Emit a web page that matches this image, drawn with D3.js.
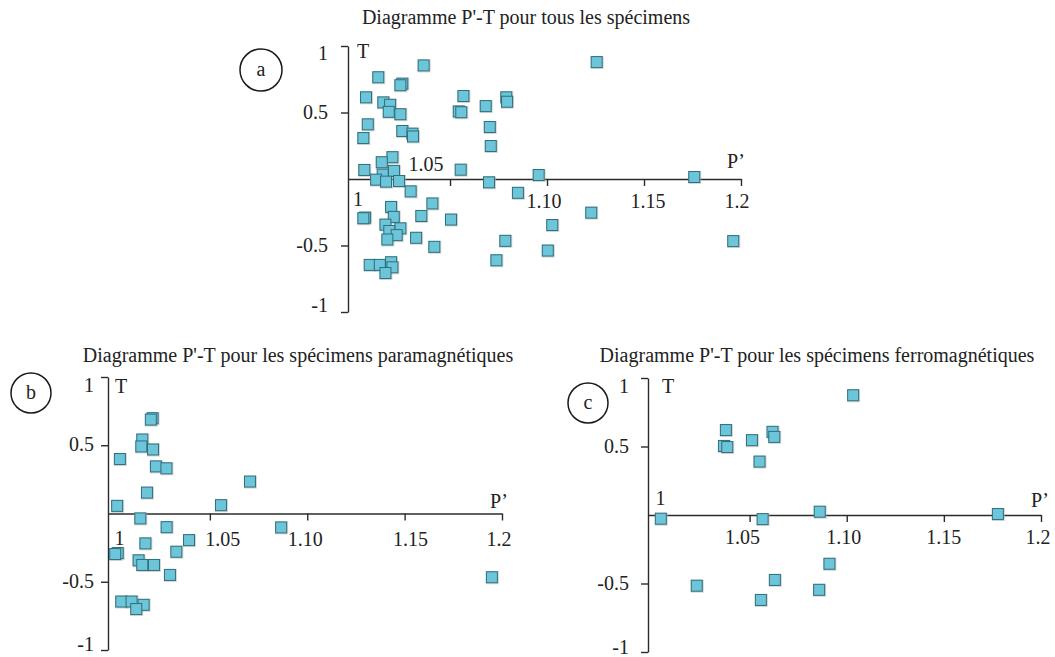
<!DOCTYPE html>
<html>
<head>
<meta charset="utf-8">
<script src="https://cdn.jsdelivr.net/npm/d3@7"></script>
<style>
  html, body { margin: 0; padding: 0; background: #ffffff; }
  svg { display: block; }
  text { font-family: "Liberation Serif", "DejaVu Serif", serif; fill: #222222; }
</style>
</head>
<body>
<svg id="chart" width="1055" height="657"></svg>
<script>
// ---------- DATA ----------
const xTicks = [1, 1.05, 1.10, 1.15, 1.2];
const xTickLabels = ["1", "1.05", "1.10", "1.15", "1.2"];
const yTicks = [1, 0.5, -0.5, -1];
const yTickLabels = ["1", "0.5", "-0.5", "-1"];
const xAxisName = "P\u2019";
const yAxisName = "T";

const titleA = "Diagramme P'-T pour tous les spécimens";
const titleB = "Diagramme P'-T pour les spécimens paramagnétiques";
const titleC = "Diagramme P'-T pour les spécimens ferromagnétiques";

// [P', T] pairs
const pointsA = [
  [1.0364, 0.854], [1.0130, 0.765], [1.0254, 0.717], [1.0244, 0.705], [1.0067, 0.614],
  [1.0156, 0.576], [1.0191, 0.558], [1.0184, 0.505], [1.0244, 0.487], [1.0569, 0.624],
  [1.0545, 0.508], [1.0558, 0.502], [1.0076, 0.411], [1.0254, 0.361], [1.0306, 0.341],
  [1.0309, 0.320], [1.0053, 0.308], [1.0203, 0.164], [1.0148, 0.126], [1.0058, 0.068],
  [1.0555, 0.070], [1.0153, 0.033], [1.0211, 0.061], [1.0119, -0.005], [1.0170, -0.020],
  [1.0237, -0.015], [1.0297, -0.093], [1.0790, 0.614], [1.0794, 0.581], [1.0684, 0.548],
  [1.0705, 0.391], [1.0710, 0.248], [1.0701, -0.025], [1.0957, 0.030], [1.1759, 0.015],
  [1.1256, 0.879], [1.0850, -0.104], [1.1228, -0.253], [1.1027, -0.346], [1.0785, -0.465],
  [1.1004, -0.538], [1.0739, -0.611], [1.1960, -0.467], [1.0409, -0.184], [1.0196, -0.210],
  [1.0062, -0.290], [1.0053, -0.295], [1.0210, -0.285], [1.0352, -0.278], [1.0505, -0.305],
  [1.0167, -0.343], [1.0244, -0.371], [1.0187, -0.391], [1.0225, -0.422], [1.0177, -0.455],
  [1.0325, -0.442], [1.0419, -0.510], [1.0086, -0.646], [1.0138, -0.646], [1.0196, -0.626],
  [1.0203, -0.664], [1.0167, -0.707]
];

const pointsB = [
  [1.0206, 0.698], [1.0197, 0.688], [1.0153, 0.542], [1.0148, 0.491], [1.0208, 0.469],
  [1.0038, 0.399], [1.0223, 0.345], [1.0277, 0.331], [1.0177, 0.153], [1.0024, 0.056],
  [1.0557, 0.061], [1.0706, 0.234], [1.0143, -0.036], [1.0278, -0.100], [1.0393, -0.195],
  [1.0169, -0.219], [1.0328, -0.280], [1.0027, -0.290], [1.0014, -0.297], [1.0134, -0.343],
  [1.0153, -0.377], [1.0213, -0.377], [1.0295, -0.450], [1.0045, -0.645], [1.0098, -0.645],
  [1.0160, -0.669], [1.0122, -0.700], [1.0866, -0.102], [1.1948, -0.467]
];

const pointsC = [
  [1.1033, 0.874], [1.0378, 0.620], [1.0368, 0.504], [1.0385, 0.496], [1.0512, 0.546],
  [1.0618, 0.607], [1.0627, 0.570], [1.0551, 0.390], [1.0043, -0.027], [1.0567, -0.030],
  [1.0861, 0.024], [1.1778, 0.007], [1.0911, -0.356], [1.0630, -0.474], [1.0228, -0.516],
  [1.0858, -0.546], [1.0558, -0.620]
];

// ---------- LAYOUT ----------
const panels = [
  {
    data: pointsA, title: titleA, letter: "a",
    xDomain: [0.9974, 1.2], xRange: [348, 741], yRange: [312, 46],
    titlePos: [526, 24], circle: [261, 70, 21],
    xLabOff: [[5, 27], [-24, -8], [-3, 29], [4, 29], [-4, 29]],
    yLabGap: 20, yLabDy: [8, 0, 0, -6],
    pOff: [-5, -11], tOff: [15, 12]
  },
  {
    data: pointsB, title: titleB, letter: "b",
    xDomain: [0.9977, 1.2], xRange: [108, 502], yRange: [650, 377],
    titlePos: [298, 362], circle: [31, 393, 20],
    xLabOff: [[7, 31], [13, 32], [-2, 32], [6, 32], [-3, 32]],
    yLabGap: 14, yLabDy: [9, 0, 0, -5],
    pOff: [-3, -6], tOff: [13, 16]
  },
  {
    data: pointsC, title: titleC, letter: "c",
    xDomain: [0.9977, 1.2], xRange: [648, 1041], yRange: [652, 378],
    titlePos: [817, 362], circle: [588, 403, 20],
    xLabOff: [[8, -10], [-7, 29], [-3, 29], [0, 29], [-3, 29]],
    yLabGap: 19, yLabDy: [9, 0, 0, -4],
    pOff: [-1, -8], tOff: [20, 15]
  }
];

const svg = d3.select("#chart");
const FS = 20;
const axisColor = "#2b2b2b";
const fillColor = "#6cc5d8";
const strokeColor = "#2f6f7d";
const markerSize = 11;

panels.forEach(p => {
  const g = svg.append("g");
  const x = d3.scaleLinear().domain(p.xDomain).range(p.xRange);
  const y = d3.scaleLinear().domain([-1, 1]).range(p.yRange);

  // title
  g.append("text")
    .attr("x", p.titlePos[0]).attr("y", p.titlePos[1])
    .attr("text-anchor", "middle")
    .style("font-size", FS + "px")
    .text(p.title);

  // circled letter
  g.append("circle")
    .attr("cx", p.circle[0]).attr("cy", p.circle[1]).attr("r", p.circle[2])
    .attr("fill", "none").attr("stroke", "#1a1a1a").attr("stroke-width", 1.5);
  g.append("text")
    .attr("x", p.circle[0]).attr("y", p.circle[1] + 6)
    .attr("text-anchor", "middle")
    .style("font-size", FS + "px")
    .text(p.letter);

  // x axis (through T = 0)
  const xAxis = d3.axisBottom(x)
    .tickValues(xTicks)
    .tickFormat("")
    .tickSizeInner(7)
    .tickSizeOuter(0);
  const gx = g.append("g")
    .attr("transform", `translate(0,${y(0)})`)
    .call(xAxis);
  gx.select(".domain").attr("stroke", axisColor).attr("stroke-width", 1.4);
  gx.selectAll(".tick line").attr("stroke", axisColor).attr("stroke-width", 1.4);
  gx.selectAll(".tick").filter(d => d === 1).remove();

  // y axis (at left edge of x domain)
  const yAxis = d3.axisLeft(y)
    .tickValues(yTicks)
    .tickFormat("")
    .tickSizeInner(7)
    .tickSizeOuter(0);
  const gy = g.append("g")
    .attr("transform", `translate(${p.xRange[0]},0)`)
    .call(yAxis);
  gy.select(".domain").attr("stroke", axisColor).attr("stroke-width", 1.4);
  gy.selectAll(".tick line").attr("stroke", axisColor).attr("stroke-width", 1.4);

  // x tick labels
  xTicks.forEach((v, i) => {
    g.append("text")
      .attr("x", x(v) + p.xLabOff[i][0])
      .attr("y", y(0) + p.xLabOff[i][1])
      .attr("text-anchor", "middle")
      .style("font-size", FS + "px")
      .text(xTickLabels[i]);
  });

  // y tick labels
  yTicks.forEach((v, i) => {
    g.append("text")
      .attr("x", p.xRange[0] - p.yLabGap)
      .attr("y", y(v) + p.yLabDy[i] + 6)
      .attr("text-anchor", "end")
      .style("font-size", FS + "px")
      .text(yTickLabels[i]);
  });

  // axis names
  g.append("text")
    .attr("x", p.xRange[1] + p.pOff[0])
    .attr("y", y(0) + p.pOff[1])
    .attr("text-anchor", "middle")
    .style("font-size", FS + "px")
    .text(xAxisName);
  g.append("text")
    .attr("x", p.xRange[0] + p.tOff[0])
    .attr("y", y(1) + p.tOff[1])
    .attr("text-anchor", "middle")
    .style("font-size", FS + "px")
    .text(yAxisName);

  // markers
  const m = g.append("g");
  m.selectAll("rect.shadow").data(p.data).enter().append("rect")
    .attr("class", "shadow")
    .attr("x", d => x(d[0]) - markerSize / 2 - 0.5)
    .attr("y", d => y(d[1]) - markerSize / 2 - 0.5)
    .attr("width", markerSize + 2).attr("height", markerSize + 2)
    .attr("fill", "#b5b5b5").attr("opacity", 0.55);
  m.selectAll("rect.pt").data(p.data).enter().append("rect")
    .attr("class", "pt")
    .attr("x", d => x(d[0]) - markerSize / 2)
    .attr("y", d => y(d[1]) - markerSize / 2)
    .attr("width", markerSize).attr("height", markerSize)
    .attr("fill", fillColor)
    .attr("stroke", strokeColor)
    .attr("stroke-width", 1);
});
</script>
</body>
</html>
